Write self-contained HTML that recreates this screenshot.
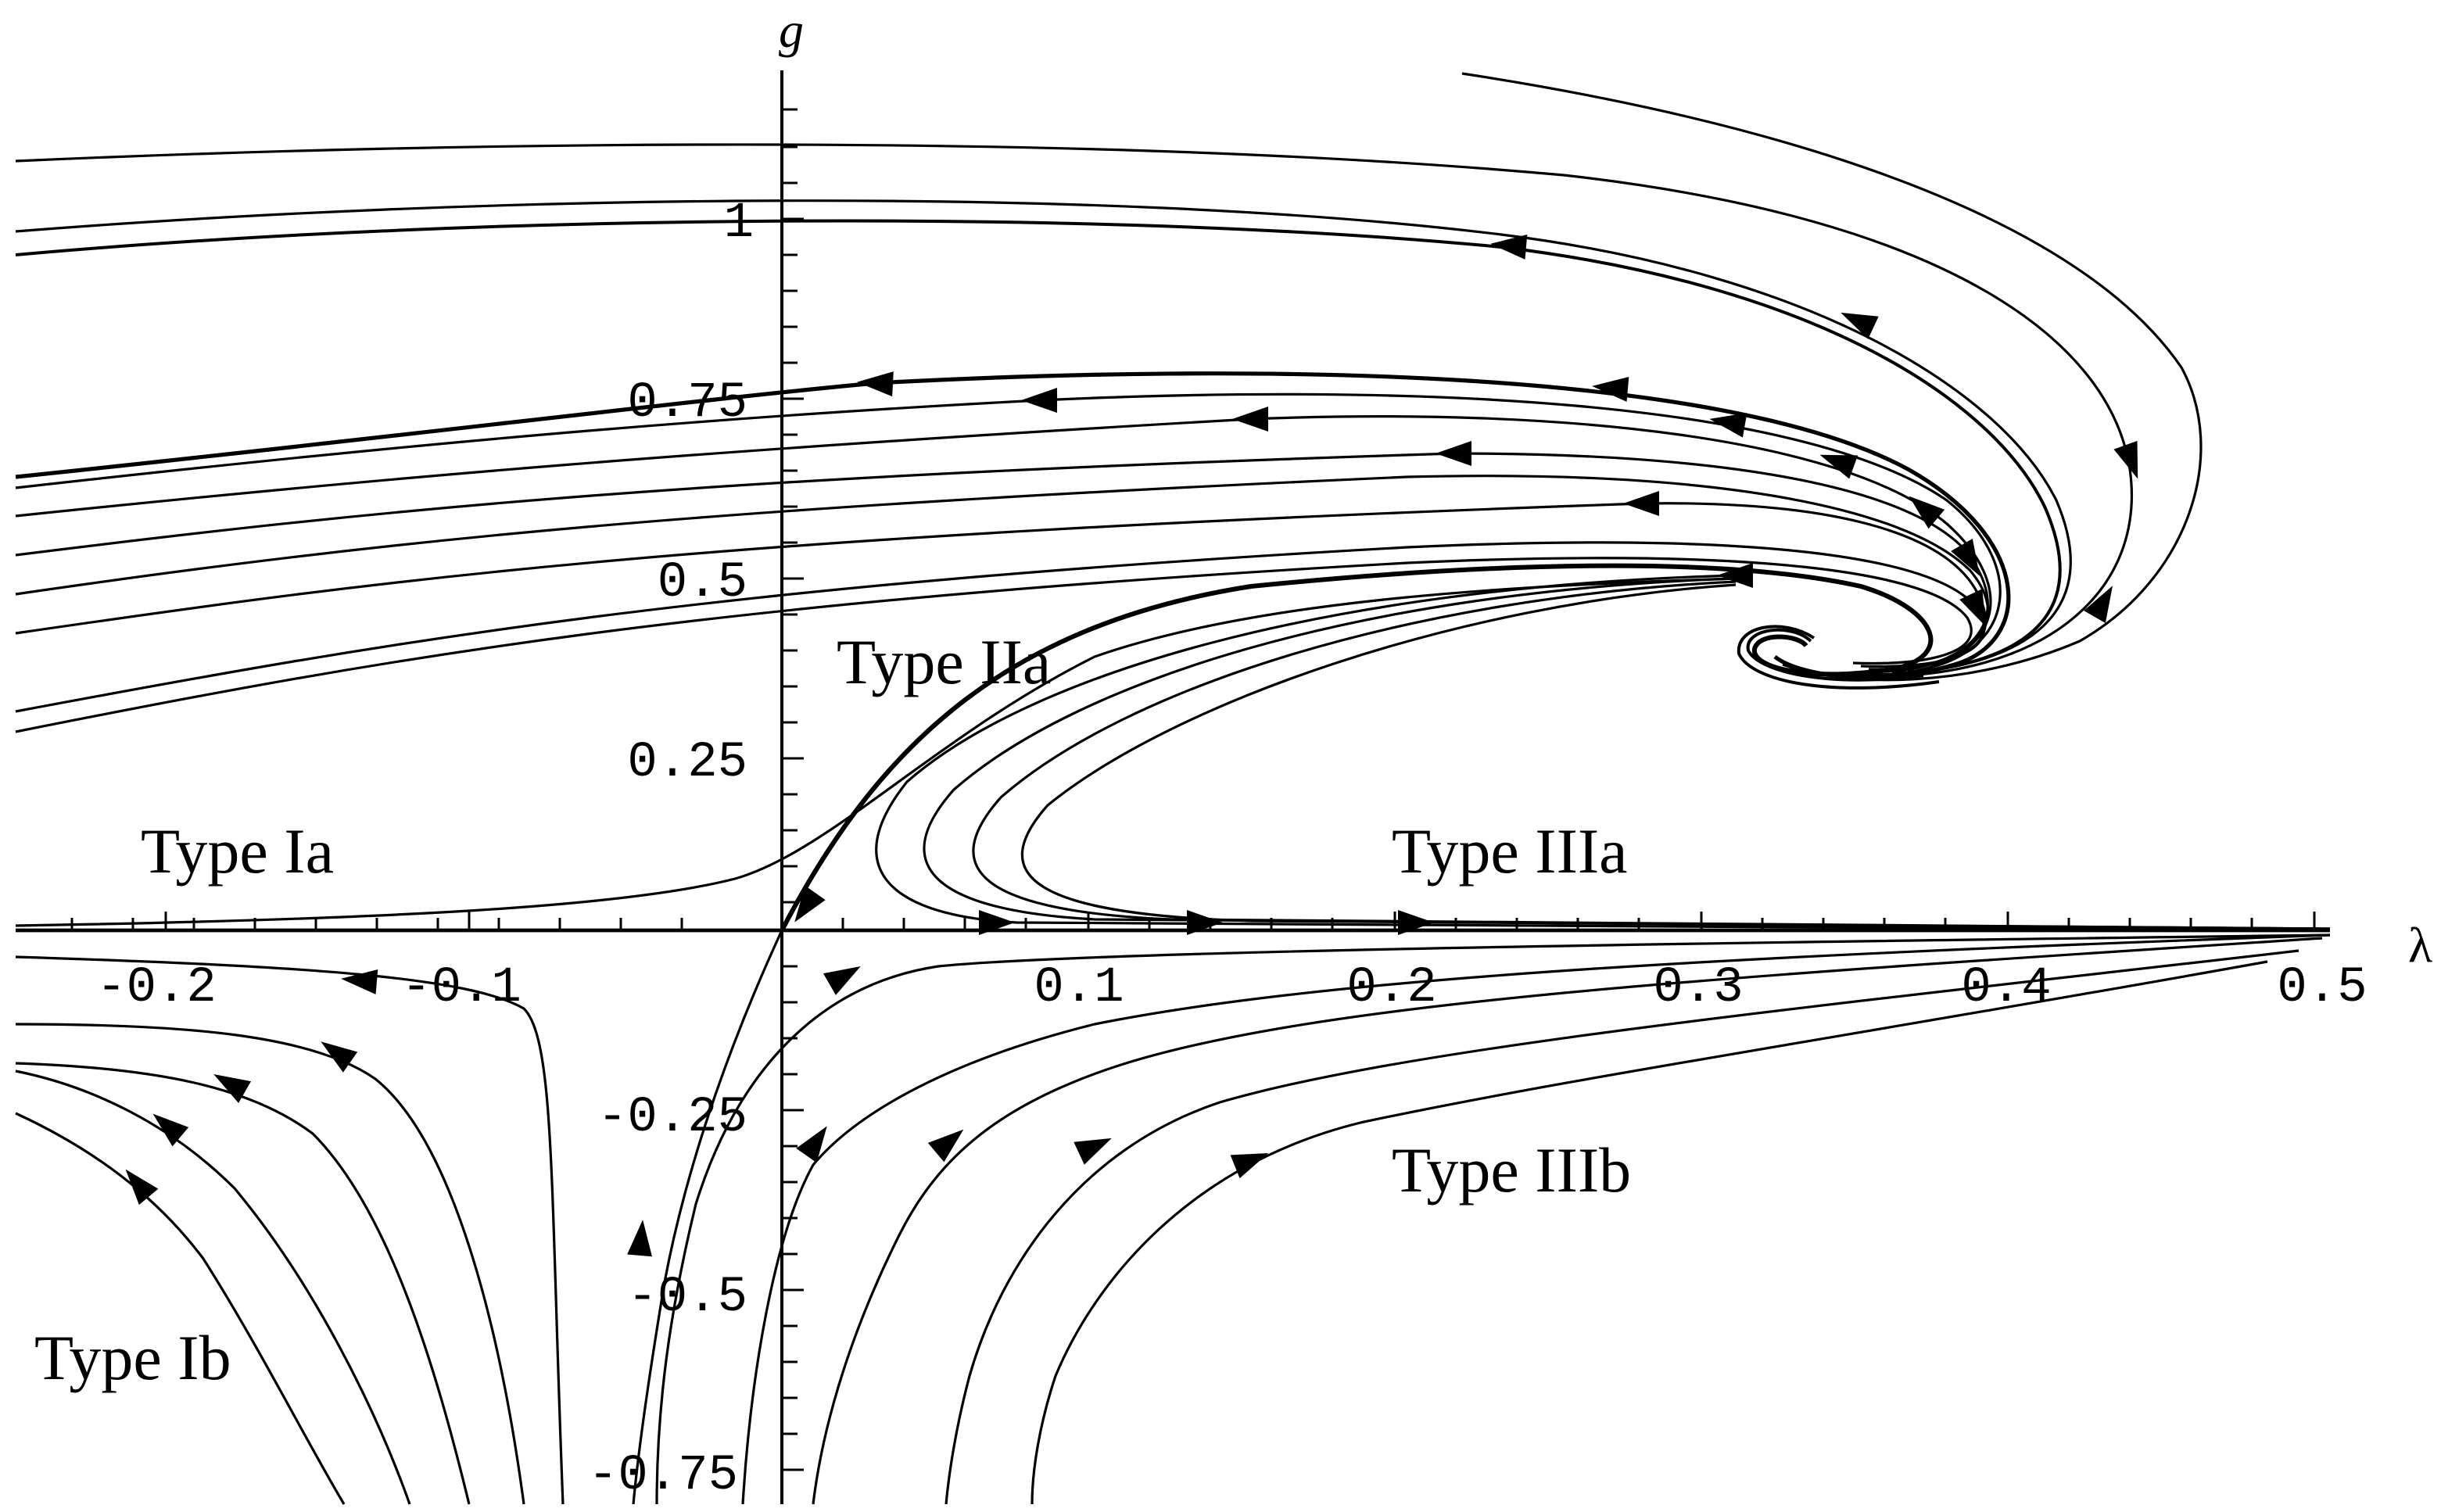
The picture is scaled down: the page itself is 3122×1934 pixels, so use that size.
<!DOCTYPE html>
<html><head><meta charset="utf-8"><style>html,body{margin:0;padding:0;background:#fff}svg{display:block}</style></head>
<body>
<svg width="3122" height="1934" viewBox="0 0 1561 967" xmlns="http://www.w3.org/2000/svg">
<defs><polygon id="a" points="12,0 -11,-8 -11,8" fill="#000"/></defs>
<g fill="none" stroke="#000" stroke-width="1.6">
<line x1="500" y1="45" x2="500" y2="962" stroke-width="2"/>
<line x1="10" y1="595" x2="1490" y2="595" stroke-width="2.4"/>
<path d="M935,47 C1150,80 1330,140 1395,235 C1425,290 1400,370 1330,410 C1260,440 1180,440 1140,425"/>
<path d="M10,103 C300,90 700,85 1000,112 C1250,140 1350,220 1362,300 C1372,370 1320,425 1220,432"/>
<path d="M10,148 C300,125 700,118 960,150 C1160,175 1280,250 1315,320 C1345,390 1300,428 1200,432"/>
<path d="M10,163 C300,137 700,133 960,158 C1160,182 1275,255 1308,325 C1338,395 1295,430 1190,432" stroke-width="2"/>
<path d="M10,305 C250,280 450,255 560,245 C800,232 1100,235 1220,300 C1300,345 1300,410 1250,425 C1200,440 1150,432 1135,420" stroke-width="2.6"/>
<path d="M10,312 C250,285 450,267 665,256 C900,245 1150,255 1245,320 C1295,360 1290,415 1230,428"/>
<path d="M10,330 C250,305 450,288 800,268 C1000,260 1180,280 1245,335 C1290,375 1280,420 1220,430"/>
<path d="M10,355 C250,325 450,305 930,290 C1100,290 1215,310 1255,350 C1285,385 1275,422 1210,430"/>
<path d="M10,380 C250,345 450,325 900,305 C1100,300 1220,325 1260,365 C1285,395 1270,425 1200,430"/>
<path d="M10,405 C250,370 450,343 1050,322 C1170,320 1245,340 1265,380 C1280,410 1260,428 1195,428"/>
<path d="M10,455 C250,410 450,375 900,350 C1120,340 1240,355 1265,390 C1280,415 1250,428 1190,426"/>
<path d="M10,468 C250,420 450,385 900,360 C1120,350 1235,365 1258,395 C1270,415 1240,426 1185,424"/>
<path d="M500,595 C560,480 640,400 800,375 C950,360 1100,355 1190,375 C1240,390 1250,420 1210,428 C1160,436 1120,428 1122,415 C1125,404 1150,406 1155,413" stroke-width="3"/>
<path d="M1230,432 C1170,440 1125,430 1118,416 C1115,402 1145,398 1158,410" stroke-width="2"/>
<path d="M1240,436 C1170,446 1120,436 1112,418 C1110,400 1140,395 1160,408" stroke-width="2"/>
<path d="M1110,368 C850,375 660,430 580,500 C540,550 560,585 650,590 L1490,595" />
<path d="M1110,370 C870,378 690,435 610,505 C570,550 590,582 700,588 L1490,594"/>
<path d="M1110,372 C900,382 720,440 640,510 C600,555 625,583 750,588 L1490,594"/>
<path d="M1110,374 C930,386 750,450 670,515 C630,560 660,585 800,589 L1490,594"/>
<path d="M10,592 C250,588 400,580 470,562 C530,545 600,470 700,420 C800,385 950,375 1110,370"/>
<path d="M500,595 C470,660 440,740 425,820 C415,880 408,930 405,962"/>
<path d="M10,612 C200,618 300,625 335,645 C355,665 352,760 360,962"/>
<path d="M10,655 C120,655 200,662 240,690 C290,730 320,850 335,962"/>
<path d="M10,680 C100,683 160,695 200,725 C250,775 280,880 300,962"/>
<path d="M10,685 C60,695 110,720 150,760 C200,820 240,900 262,962"/>
<path d="M10,712 C60,735 100,765 130,805 C165,860 195,920 220,962"/>
<path d="M1490,598 C1100,603 700,608 600,618 C520,630 470,690 445,770 C428,840 420,900 420,962"/>
<path d="M1490,598 C1100,612 850,625 700,655 C600,680 545,715 520,745 C495,790 480,880 475,962"/>
<path d="M1485,600 C1100,625 850,640 720,680 C640,705 600,740 575,790 C540,860 525,920 520,962"/>
<path d="M1470,608 C1150,645 900,670 780,705 C690,735 640,810 620,880 C612,910 607,940 605,962"/>
<path d="M1450,615 C1200,660 1000,690 870,718 C760,745 700,820 675,880 C665,910 660,940 660,962"/>
</g>
<g stroke="#000" stroke-width="1.5">
<path d="M500,70h10M500,94h10M500,117h10M500,140h14M500,163h10M500,186h10M500,209h10M500,232h10M500,255h14M500,278h10M500,301h10M500,324h10M500,347h10M500,370h14M500,393h10M500,416h10M500,439h10M500,462h10M500,485h14M500,508h10M500,531h10M500,554h10M500,577h10M500,618h10M500,641h10M500,664h10M500,687h10M500,710h14M500,733h10M500,756h10M500,779h10M500,802h10M500,825h14M500,848h10M500,871h10M500,894h10M500,917h10M500,940h14"/>
<path d="M46,595v-8M85,595v-8M124,595v-8M163,595v-8M106,595v-12M202,595v-8M241,595v-8M280,595v-8M300,595v-12M319,595v-8M358,595v-8M397,595v-8M436,595v-8M539,595v-8M578,595v-8M617,595v-8M656,595v-8M696,595v-12M735,595v-8M774,595v-8M813,595v-8M852,595v-8M892,595v-12M931,595v-8M970,595v-8M1009,595v-8M1048,595v-8M1088,595v-12M1127,595v-8M1166,595v-8M1205,595v-8M1244,595v-8M1284,595v-12M1323,595v-8M1362,595v-8M1401,595v-8M1440,595v-8M1480,595v-12"/>
</g>
<g>
<use href="#a" transform="translate(965,157) rotate(185)"/>
<use href="#a" transform="translate(1188,205) rotate(205)"/>
<use href="#a" transform="translate(1363,295) rotate(70)"/>
<use href="#a" transform="translate(1345,385) rotate(-60)"/>
<use href="#a" transform="translate(560,245) rotate(183)"/>
<use href="#a" transform="translate(665,256) rotate(180)"/>
<use href="#a" transform="translate(800,268) rotate(180)"/>
<use href="#a" transform="translate(930,290) rotate(180)"/>
<use href="#a" transform="translate(1050,322) rotate(180)"/>
<use href="#a" transform="translate(1030,248) rotate(185)"/>
<use href="#a" transform="translate(1105,270) rotate(190)"/>
<use href="#a" transform="translate(1175,295) rotate(200)"/>
<use href="#a" transform="translate(1230,325) rotate(220)"/>
<use href="#a" transform="translate(1260,358) rotate(60)"/>
<use href="#a" transform="translate(1265,390) rotate(65)"/>
<use href="#a" transform="translate(1110,368) rotate(180)"/>
<use href="#a" transform="translate(515,580) rotate(125)"/>
<use href="#a" transform="translate(637,590) rotate(0)"/>
<use href="#a" transform="translate(770,590) rotate(0)"/>
<use href="#a" transform="translate(905,590) rotate(0)"/>
<use href="#a" transform="translate(410,792) rotate(-85)"/>
<use href="#a" transform="translate(540,624) rotate(-30)"/>
<use href="#a" transform="translate(522,730) rotate(-55)"/>
<use href="#a" transform="translate(607,730) rotate(-40)"/>
<use href="#a" transform="translate(700,733) rotate(-25)"/>
<use href="#a" transform="translate(800,742) rotate(-22)"/>
<use href="#a" transform="translate(230,627) rotate(185)"/>
<use href="#a" transform="translate(215,673) rotate(215)"/>
<use href="#a" transform="translate(147,693) rotate(210)"/>
<use href="#a" transform="translate(107,720) rotate(220)"/>
<use href="#a" transform="translate(88,757) rotate(230)"/>
</g>
<g font-family="Liberation Mono, monospace" font-size="32" fill="#000">
<g text-anchor="end">
<text x="482" y="151">1</text>
<text x="478" y="266">0.75</text>
<text x="478" y="381">0.5</text>
<text x="478" y="496">0.25</text>
<text x="478" y="723">-0.25</text>
<text x="478" y="838">-0.5</text>
<text x="472" y="952">-0.75</text>
</g>
<g text-anchor="middle">
<text x="100" y="640">-0.2</text>
<text x="295" y="640">-0.1</text>
<text x="690" y="640">0.1</text>
<text x="890" y="640">0.2</text>
<text x="1086" y="640">0.3</text>
<text x="1283" y="640">0.4</text>
<text x="1485" y="640">0.5</text>
</g>
</g>
<g font-family="Liberation Serif, serif" font-size="41" fill="#000">
<text x="535" y="437">Type IIa</text>
<text x="90" y="558">Type Ia</text>
<text x="890" y="558">Type IIIa</text>
<text x="890" y="762">Type IIIb</text>
<text x="22" y="882">Type Ib</text>
<text x="498" y="30" font-style="italic" font-size="32">g</text>
<text x="1540" y="615" font-size="32">λ</text>
</g>
</svg>
</body></html>
